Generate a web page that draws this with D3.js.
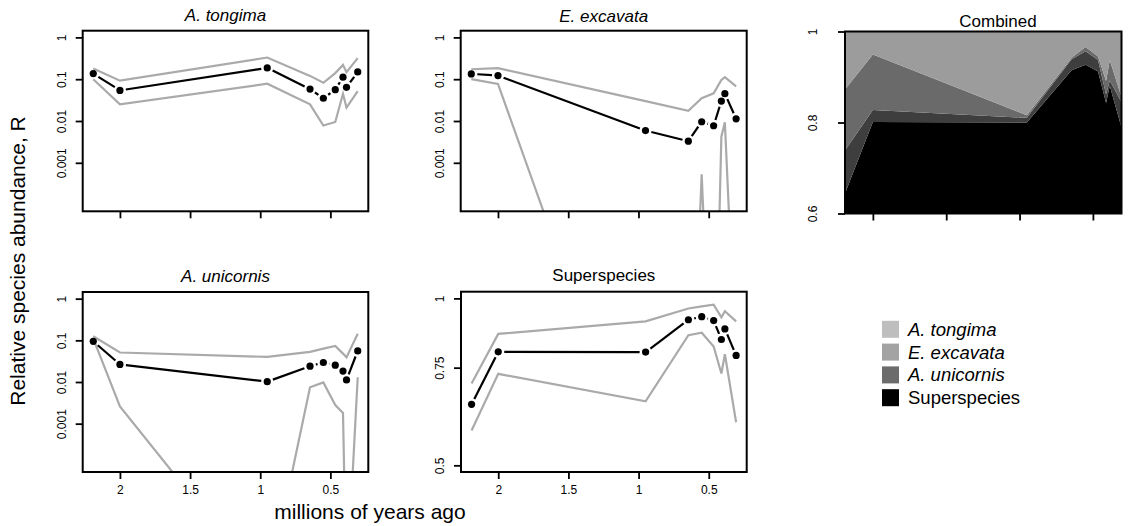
<!DOCTYPE html>
<html><head><meta charset="utf-8">
<script src="https://cdnjs.cloudflare.com/ajax/libs/d3/7.8.5/d3.min.js"></script>
<style>
body{margin:0;background:#fff}
svg{display:block;font-family:"Liberation Sans",Arial,Helvetica,sans-serif}
</style>
</head><body>
<svg id="c" width="1130" height="526"></svg>
<script>
// ---------- data ----------
const years = [2.19, 2.0, 0.95, 0.645, 0.55, 0.465, 0.41, 0.385, 0.305];

const tongima      = [0.136, 0.054, 0.186, 0.058, 0.035, 0.056, 0.112, 0.064, 0.149];
const tongimaUpper = [0.18, 0.092, 0.33, 0.12, 0.082, 0.14, 0.22, 0.147, 0.32];
const tongimaLower = [0.10, 0.025, 0.078, 0.025, 0.0078, 0.0095, 0.0447, 0.021, 0.052];

const excavata      = [0.134, 0.122, 0.0059, 0.0033, 0.0096, 0.0077, 0.030, 0.045, 0.0113];
const excavataUpper = [0.173, 0.183, 0.030, 0.0176, 0.035, 0.046, 0.096, 0.112, 0.067];
const excavataLower = [0.10, 0.077, 1e-11, 1e-11, 0.00053, 1e-10, 0.0042, 0.0093, 1e-8];

const unicornis      = [0.0946, 0.0264, 0.0102, 0.024, 0.0294, 0.0254, 0.0183, 0.0112, 0.0557];
const unicornisUpper = [0.125, 0.051, 0.040, 0.053, 0.063, 0.073, 0.048, 0.039, 0.144];
const unicornisLower = [0.11, 0.0026, 1e-7, 0.0075, 0.0098, 0.0028, 0.0018, 1e-7, 0.013];

const superspecies = [0.644, 0.801, 0.800, 0.915, 0.927, 0.912, 0.843, 0.881, 0.789];
const superUpper   = [0.702, 0.863, 0.909, 0.959, 0.967, 0.974, 0.924, 0.948, 0.909];
const superLower   = [0.578, 0.731, 0.652, 0.858, 0.867, 0.819, 0.732, 0.793, 0.598];

const xTicks = [2, 1.5, 1, 0.5];
const xTickLabels = ["2", "1.5", "1", "0.5"];
const logTicks = [1, 0.1, 0.01, 0.001];
const logTickLabels = ["1", "0.1", "0.01", "0.001"];
const superTicks = [1, 0.75, 0.5];
const superTickLabels = ["1", "0.75", "0.5"];
const combTicks = [1, 0.8, 0.6];
const combTickLabels = ["1", "0.8", "0.6"];

const titles = ["A. tongima", "E. excavata", "Combined", "A. unicornis", "Superspecies"];
const legendLabels = ["A. tongima", "E. excavata", "A. unicornis", "Superspecies"];
const stackKeys = ["Superspecies", "A. unicornis", "E. excavata", "A. tongima"];

// ---------- styles ----------
const GRAY = "#aaaaaa";
const legendColors = ["#bebebe", "#a3a3a3", "#6c6c6c", "#000000"];
const stackColors = {"Superspecies": "#000000", "A. unicornis": "#3e3e3e", "E. excavata": "#6a6a6a", "A. tongima": "#9c9c9c"};

const svg = d3.select("#c");

const [xmin, xmax] = d3.extent(years);
const xpad = (xmax - xmin) * 0.04;
const xDomPad = [xmax + xpad, xmin - xpad];

function logDomain(lo, hi) {
  const a = Math.log10(lo), b = Math.log10(hi), p = (b - a) * 0.04;
  return [Math.pow(10, a - p), Math.pow(10, b + p)];
}

let clipId = 0;
function addClip(x0, y0, x1, y1) {
  const id = "clip" + (clipId++);
  svg.append("clipPath").attr("id", id).append("rect")
    .attr("x", x0).attr("y", y0).attr("width", x1 - x0).attr("height", y1 - y0);
  return id;
}

function styleAxis(ax) {
  ax.attr("font-family", null).attr("font-size", 12);
  ax.select(".domain").remove();
  ax.selectAll(".tick line").attr("stroke", "#000").attr("stroke-width", 1.8);
  ax.selectAll(".tick text").attr("fill", "#000");
}

function leftAxis(y, x0, ticks, labels, off) {
  const ax = svg.append("g").attr("transform", `translate(${x0},0)`)
    .call(d3.axisLeft(y).tickValues(ticks).tickSize(7).tickFormat((d, i) => labels[i]));
  styleAxis(ax);
  ax.selectAll(".tick text").attr("x", null).attr("dy", null)
    .attr("text-anchor", "middle")
    .attr("transform", `translate(${-off},0) rotate(-90)`);
}

function bottomAxis(x, y1, showLabels) {
  const ax = svg.append("g").attr("transform", `translate(0,${y1})`)
    .call(d3.axisBottom(x).tickValues(xTicks).tickSize(7)
      .tickFormat((d, i) => showLabels ? xTickLabels[i] : ""));
  styleAxis(ax);
  ax.selectAll(".tick text").attr("y", 13);
}

function panel(o) {
  const x = d3.scaleLinear().domain(xDomPad).range([o.x0, o.x1]);
  const y = d3.scaleLog().domain(o.yDomain).range([o.y1, o.y0]);
  const cid = addClip(o.x0, o.y0, o.x1, o.y1);
  const g = svg.append("g").attr("clip-path", `url(#${cid})`);
  const line = d3.line().x((d, i) => x(years[i])).y(d => y(d));
  [o.upper, o.lower].forEach(arr => {
    g.append("path").attr("d", line(arr)).attr("fill", "none")
      .attr("stroke", GRAY).attr("stroke-width", 2.2).attr("stroke-linejoin", "miter");
  });
  // type="b": segments with gaps around points
  const pts = o.vals.map((v, i) => [x(years[i]), y(v)]);
  const gap = 6;
  const segs = [];
  for (let i = 0; i < pts.length - 1; i++) {
    const [ax, ay] = pts[i], [bx, by] = pts[i + 1];
    const dx = bx - ax, dy = by - ay, L = Math.hypot(dx, dy);
    if (L > 2 * gap) {
      const ux = dx / L, uy = dy / L;
      segs.push([[ax + ux * gap, ay + uy * gap], [bx - ux * gap, by - uy * gap]]);
    }
  }
  g.selectAll("path.seg").data(segs).join("path").attr("class", "seg")
    .attr("d", d => d3.line()(d)).attr("stroke", "#000").attr("stroke-width", 2.2).attr("fill", "none");
  g.selectAll("circle").data(o.vals).join("circle")
    .attr("cx", (d, i) => x(years[i])).attr("cy", d => y(d)).attr("r", 3.6).attr("fill", "#000");
  svg.append("rect").attr("x", o.x0).attr("y", o.y0).attr("width", o.x1 - o.x0).attr("height", o.y1 - o.y0)
    .attr("fill", "none").attr("stroke", "#000").attr("stroke-width", 2);
  leftAxis(y, o.x0, o.ticks, o.tickLabels, 17);
  bottomAxis(x, o.y1, o.showX);
  svg.append("text").attr("x", (o.x0 + o.x1) / 2).attr("y", o.titleY)
    .attr("text-anchor", "middle").attr("font-size", 17)
    .attr("font-style", o.italic ? "italic" : "normal").text(o.title);
}

const logDom = logDomain(1e-4, 1);
panel({x0: 82.7, x1: 368.3, y0: 30.7, y1: 211.3, yDomain: logDom, ticks: logTicks, tickLabels: logTickLabels,
  vals: tongima, upper: tongimaUpper, lower: tongimaLower, title: titles[0], italic: true, titleY: 21, showX: false});
panel({x0: 460.7, x1: 746.7, y0: 30.7, y1: 211.3, yDomain: logDom, ticks: logTicks, tickLabels: logTickLabels,
  vals: excavata, upper: excavataUpper, lower: excavataLower, title: titles[1], italic: true, titleY: 22, showX: false});
panel({x0: 82.7, x1: 368.3, y0: 292, y1: 472, yDomain: logDom, ticks: logTicks, tickLabels: logTickLabels,
  vals: unicornis, upper: unicornisUpper, lower: unicornisLower, title: titles[3], italic: true, titleY: 282, showX: true});
panel({x0: 461, x1: 746.7, y0: 291.7, y1: 472, yDomain: logDomain(0.5, 1), ticks: superTicks, tickLabels: superTickLabels,
  vals: superspecies, upper: superUpper, lower: superLower, title: titles[4], italic: false, titleY: 281, showX: true});

// ---------- combined stacked area ----------
(function () {
  const x0 = 845, x1 = 1121.5, y0 = 31.5, y1 = 213.5;
  const x = d3.scaleLinear().domain([xmax, xmin]).range([x0, x1]);
  const y = d3.scaleLinear().domain([0.6, 1]).range([y1, y0]);
  const rows = years.map((t, i) => ({
    t,
    "Superspecies": superspecies[i],
    "A. unicornis": unicornis[i],
    "E. excavata": excavata[i],
    "A. tongima": tongima[i]
  }));
  const stacked = d3.stack().keys(stackKeys)(rows);
  const area = d3.area().x(d => x(d.data.t)).y0(d => y(d[0])).y1(d => y(d[1]));
  const cid = addClip(x0, y0, x1, y1);
  const g = svg.append("g").attr("clip-path", `url(#${cid})`);
  g.selectAll("path").data(stacked).join("path")
    .attr("d", area).attr("fill", d => stackColors[d.key]);
  svg.append("rect").attr("x", x0).attr("y", y0).attr("width", x1 - x0).attr("height", y1 - y0)
    .attr("fill", "none").attr("stroke", "#000").attr("stroke-width", 2);
  leftAxis(y, x0, combTicks, combTickLabels, 28);
  bottomAxis(x, y1, false);
  svg.append("text").attr("x", 998).attr("y", 26.5).attr("text-anchor", "middle")
    .attr("font-size", 17).text(titles[2]);
})();

// ---------- legend ----------
const lg = svg.append("g");
legendLabels.forEach((lab, i) => {
  const cy = 329.3 + i * 22.8;
  lg.append("rect").attr("x", 882).attr("y", cy - 8.5).attr("width", 17).attr("height", 17).attr("fill", legendColors[i]);
  lg.append("text").attr("x", 908).attr("y", cy + 6.5).attr("font-size", 18.5)
    .attr("font-style", i < 3 ? "italic" : "normal").text(lab);
});

// ---------- axis titles ----------
svg.append("text").attr("x", 370).attr("y", 519).attr("text-anchor", "middle")
  .attr("font-size", 21).text("millions of years ago");
svg.append("text").attr("transform", "translate(25,261) rotate(-90)").attr("text-anchor", "middle")
  .attr("font-size", 21).text("Relative species abundance, R");
</script>
</body></html>
